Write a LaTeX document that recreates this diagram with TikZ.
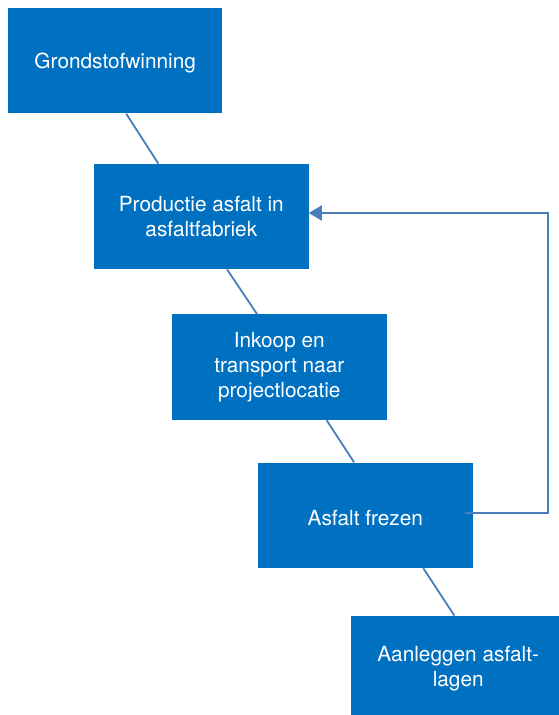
\documentclass[tikz,border=0pt]{standalone}
\usepackage{fontspec}
\setmainfont{TeX Gyre Heros}
\usetikzlibrary{calc,arrows.meta}
\definecolor{boxblue}{HTML}{0070C0}
\definecolor{linkblue}{HTML}{4A7EBB}
\begin{document}
\begin{tikzpicture}[x=1pt,y=-1pt,
  stage/.style={fill=boxblue, draw=none, minimum width=214.5pt, minimum height=105.5pt,
    inner sep=0pt, text=white, align=center, font=\fontsize{20.8}{24.8}\selectfont,
    execute at begin node={\rule{0pt}{20.5pt}}},
  link/.style={draw=linkblue, line width=1.8pt},
  feedback/.style={link, -{Triangle[length=13pt,width=15pt]}}]
\useasboundingbox (0,0) rectangle (559,715);
\clip (0,0) rectangle (559,715);
\node[stage] (b1) at (115.2,60.7) {Grondstofwinning};
\node[stage] (b2) at (201.3,216.5) {Productie asfalt in\\asfaltfabriek};
\node[stage] (b3) at (279.3,367.2) {Inkoop en\\transport naar\\projectlocatie};
\node[stage] (b4) at (365.3,515.3) {Asfalt frezen};
\node[stage] (b5) at (458.2,668.5) {Aanleggen asfalt-\\lagen};
\draw[link] ($(b1.south west)!0.551!(b1.south east)$) -- ($(b2.north west)!0.30!(b2.north east)$);
\draw[link] ($(b2.south west)!0.62!(b2.south east)$) -- ($(b3.north west)!0.397!(b3.north east)$);
\draw[link] ($(b3.south west)!0.72!(b3.south east)$) -- ($(b4.north west)!0.448!(b4.north east)$);
\draw[link] ($(b4.south west)!0.77!(b4.south east)$) -- ($(b5.north west)!0.482!(b5.north east)$);
\draw[feedback] ([xshift=-8pt,yshift=2pt]b4.east) -- ++(83,0) |- ([yshift=3.5pt]b2.east);
\end{tikzpicture}
\end{document}
